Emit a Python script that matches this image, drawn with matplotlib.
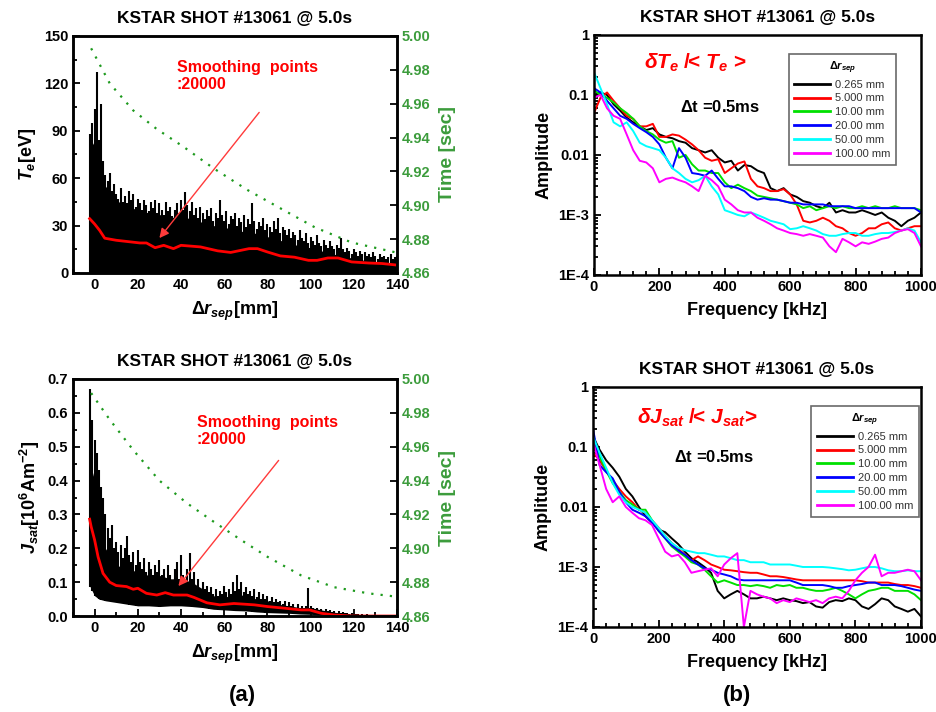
import numpy as np
import matplotlib
matplotlib.use("Agg")
import matplotlib.pyplot as plt
from matplotlib.ticker import MultipleLocator, FixedLocator, NullFormatter

plt.rcParams['font.family'] = ['Liberation Sans', 'DejaVu Sans']
plt.rcParams['font.weight'] = 'bold'
plt.rcParams['axes.labelweight'] = 'bold'
plt.rcParams['axes.titleweight'] = 'bold'
plt.rcParams['mathtext.fontset'] = 'custom'
plt.rcParams['mathtext.rm'] = 'Liberation Sans:bold'
plt.rcParams['mathtext.it'] = 'Liberation Sans:italic:bold'
plt.rcParams['mathtext.bf'] = 'Liberation Sans:bold'

# --- DATA: radial profiles (panel a) ---
r_peak = list(range(-2, 141))  # mm, one spike per mm
te_peak = [88, 95, 104, 127, 84, 107, 71, 62, 58, 63, 52, 56,
           50, 47, 54, 45, 49, 44, 52, 46, 50, 42,
           47, 44, 40, 46, 43, 39, 45, 41, 46, 38,
           44, 40, 37, 45, 39, 42, 36, 40, 44, 38,
           46, 40, 51, 43, 39, 45, 37, 41, 35, 42,
           38, 34, 40, 36, 41, 33, 38, 35, 46, 37,
           33, 39, 31, 36, 34, 38, 30, 35, 32, 37,
           29, 34, 31, 44, 33, 28, 32, 30, 35, 27,
           31, 29, 26, 33, 28, 35, 25, 29, 27, 24,
           28, 22, 26, 24, 21, 27, 22, 20, 25, 19,
           23, 20, 18, 24, 19, 17, 21, 18, 16, 20,
           17, 15, 18, 16, 22, 15, 13, 16, 14, 12,
           15, 13, 11, 14, 12, 13, 11, 12, 10, 13,
           11, 9, 12, 10, 11, 9, 10, 12, 9, 10, 11]
js_peak = [.67, .58, .52, .48, .43, .38, .35, .30, .26, .23, .27, .20,
           .22, .19, .21, .17, .20, .235, .18, .16, .19, .15,
           .195, .16, .14, .17, .13, .16, .14, .12, .15, .13,
           .165, .12, .14, .11, .15, .12, .10, .14, .16, .11,
           .18, .12, .10, .14, .185, .11, .13, .09, .11, .08,
           .10, .08, .09, .07, .085, .065, .08, .06, .075, .065,
           .09, .07, .08, .065, .10, .075, .12, .08, .10, .07,
           .085, .065, .075, .06, .08, .055, .07, .05, .065, .05,
           .06, .045, .055, .04, .05, .04, .045, .035, .045, .03,
           .04, .03, .035, .025, .035, .025, .03, .025, .03, .082,
           .03, .025, .02, .025, .018, .022, .015, .02, .014, .018,
           .012, .016, .01, .014, .009, .012, .008, .01, .007, .009,
           .006, .005, .006, .004, .005, .004, .005, .003, .004, .003,
           .003, .004, .003, .002, .003, .002, .003, .002, .002, .003, .002]

r_body = [-2, 0, 2, 5, 10, 15, 20, 25, 30, 35, 40, 45, 50, 55, 60, 65, 70,
          75, 80, 85, 90, 95, 100, 105, 110, 115, 120, 125, 130, 135, 140]
te_body = [85, 80, 68, 55, 46, 42, 40, 38, 37, 35, 36, 34, 32, 30, 29, 27, 26,
           25, 23, 21, 19, 17, 16, 14, 12, 11, 9, 8, 7, 6, 6]
js_body = [0.45, 0.40, 0.30, 0.20, 0.15, 0.14, 0.13, 0.12, 0.12, 0.11, 0.11,
           0.10, 0.08, 0.06, 0.055, 0.065, 0.06, 0.05, 0.045, 0.035, 0.03,
           0.025, 0.025, 0.018, 0.012, 0.008, 0.005, 0.003, 0.002, 0.002, 0.002]
js_low = [0.085, 0.06, 0.05, 0.045, 0.04, 0.035, 0.03, 0.03, 0.028, 0.03, 0.03,
          0.028, 0.025, 0.02, 0.018, 0.016, 0.015, 0.012, 0.01, 0.009, 0.008,
          0.006, 0.005, 0.003, 0.002, 0.001, 0, 0, 0, 0, 0]

te_sm_r = [-2.3, 0, 2.3, 4.7, 10, 21, 24, 28, 32, 36.5, 40, 49, 57, 63, 71.5,
           75.4, 80, 86, 92.5, 99, 103, 108, 112.7, 119, 127, 133, 140]
te_sm = [34.4, 31, 27, 22, 20.7, 19, 19, 16, 17.5, 15.4, 17.5, 16.5, 14, 13,
         15.4, 15.4, 13.3, 10.8, 10, 8, 8, 9.5, 9.5, 7, 6.3, 6, 5]
js_sm_r = [-2.3, -1.6, 0, 1.6, 3.9, 7, 10, 14.8, 17.9, 20, 24, 28.8, 32.7,
           36.5, 42.8, 46, 52, 58, 64.5, 74, 80, 88, 95.6, 99.5, 105, 111, 119, 140]
js_sm = [0.286, 0.264, 0.225, 0.175, 0.126, 0.10, 0.09, 0.087, 0.079, 0.082,
         0.067, 0.062, 0.069, 0.062, 0.062, 0.055, 0.039, 0.033, 0.037, 0.033,
         0.028, 0.023, 0.018, 0.018, 0.008, 0.003, 0.0, 0.0]

te_t_r = [-1.6, 7, 17.9, 28.8, 41.2, 55.2, 70.8, 86.3, 101.9, 119, 140]
te_t = [4.9927, 4.972, 4.956, 4.945, 4.9345, 4.9217, 4.909, 4.898, 4.887, 4.878, 4.872]
js_t_r = [-1.6, 7, 17.9, 30, 42.8, 55, 67.7, 80, 95.6, 111, 126.7, 140]
js_t = [4.9917, 4.976, 4.958, 4.940, 4.9266, 4.9158, 4.905, 4.895, 4.884, 4.877, 4.8734, 4.8714]

# --- DATA: spectra (panel b), 0..1000 kHz every 20 kHz ---
freq = np.arange(0, 1001, 20)
labels = ['0.265 mm', '5.000 mm', '10.00 mm', '20.00 mm', '50.00 mm', '100.00 mm']
colors = ['black', '#ff0000', '#00e000', '#0000ff', '#00ffff', '#ff00ff']

te_spec = [
    [0.10, 0.11, 0.10, 0.07, 0.055, 0.042, 0.035, 0.03, 0.026, 0.028, 0.022, 0.02, 0.019,
     0.017, 0.016, 0.013, 0.012, 0.011, 0.012, 0.009, 0.0075, 0.008, 0.0055, 0.0068, 0.0065,
     0.0055, 0.005, 0.0028, 0.0025, 0.0028, 0.0022, 0.002, 0.0017, 0.0016, 0.0014, 0.0013,
     0.0016, 0.0011, 0.0012, 0.0011, 0.0011, 0.0012, 0.0011, 0.001, 0.0011, 0.0009, 0.0008,
     0.00065, 0.0008, 0.0009, 0.0011],
    [0.05, 0.09, 0.11, 0.08, 0.06, 0.045, 0.04, 0.03, 0.03, 0.033, 0.02, 0.02, 0.022, 0.021,
     0.018, 0.015, 0.012, 0.009, 0.008, 0.0085, 0.005, 0.006, 0.0072, 0.0078, 0.004, 0.003,
     0.0028, 0.0025, 0.0025, 0.0027, 0.0022, 0.0015, 0.0008, 0.00075, 0.0008, 0.0009, 0.0008,
     0.00065, 0.0006, 0.0005, 0.00045, 0.0005, 0.0006, 0.0006, 0.0007, 0.00075, 0.0006,
     0.00055, 0.0006, 0.00065, 0.00065],
    [0.12, 0.10, 0.09, 0.075, 0.06, 0.05, 0.04, 0.03, 0.025, 0.022, 0.018, 0.016, 0.017,
     0.009, 0.01, 0.007, 0.0055, 0.0055, 0.005, 0.005, 0.0035, 0.0028, 0.0032, 0.0028,
     0.0025, 0.0021, 0.002, 0.0019, 0.0018, 0.0017, 0.0016, 0.0015, 0.0013, 0.0014, 0.0012,
     0.0013, 0.0014, 0.0013, 0.0014, 0.0013, 0.0013, 0.0014, 0.0013, 0.0014, 0.0013, 0.0013,
     0.0014, 0.0013, 0.0013, 0.0013, 0.0012],
    [0.13, 0.11, 0.08, 0.06, 0.045, 0.04, 0.033, 0.028, 0.024, 0.02, 0.015, 0.009, 0.006,
     0.013, 0.009, 0.005, 0.0048, 0.0045, 0.0055, 0.004, 0.003, 0.003, 0.0028, 0.0025, 0.002,
     0.0018, 0.0019, 0.0018, 0.0018, 0.0017, 0.0016, 0.0016, 0.0015, 0.0015, 0.0015, 0.0015,
     0.0014, 0.0014, 0.0014, 0.0014, 0.0013, 0.0013, 0.0013, 0.0013, 0.0013, 0.0013, 0.0013,
     0.0013, 0.0013, 0.0013, 0.0011],
    [0.24, 0.13, 0.07, 0.035, 0.03, 0.035, 0.025, 0.016, 0.014, 0.013, 0.012, 0.009, 0.006,
     0.005, 0.004, 0.0035, 0.0038, 0.0045, 0.003, 0.0022, 0.0012, 0.0011, 0.001, 0.00095,
     0.0011, 0.001, 0.0009, 0.0008, 0.00075, 0.0007, 0.00058, 0.0006, 0.00065, 0.0006,
     0.00055, 0.00048, 0.00045, 0.00045, 0.00048, 0.0005, 0.0005, 0.00045, 0.00045, 0.00048,
     0.0005, 0.0005, 0.00052, 0.00055, 0.0006, 0.00055, 0.00035],
    [0.09, 0.10, 0.06, 0.045, 0.04, 0.022, 0.012, 0.008, 0.0075, 0.006, 0.0035, 0.004, 0.0042,
     0.0038, 0.0035, 0.003, 0.0025, 0.0045, 0.0038, 0.003, 0.0018, 0.0015, 0.0012, 0.0011,
     0.0011, 0.0009, 0.0008, 0.0007, 0.0006, 0.00055, 0.0005, 0.00048, 0.00045, 0.00048,
     0.00045, 0.00042, 0.0003, 0.00024, 0.0004, 0.00035, 0.0003, 0.00035, 0.00033, 0.00036,
     0.0004, 0.00042, 0.0005, 0.00055, 0.00058, 0.0005, 0.0003],
]
js_spec = [
    [0.15, 0.09, 0.06, 0.045, 0.032, 0.02, 0.015, 0.01, 0.007, 0.0055, 0.0042, 0.0038, 0.003,
     0.0024, 0.0018, 0.0014, 0.0012, 0.001, 0.0008, 0.0004, 0.0003, 0.00035, 0.0004, 0.00035,
     0.0003, 0.0003, 0.00032, 0.0003, 0.00028, 0.0003, 0.00028, 0.00027, 0.00025, 0.00026,
     0.00022, 0.00021, 0.00026, 0.00028, 0.00027, 0.0003, 0.00028, 0.00022, 0.0002, 0.00024,
     0.0003, 0.00028, 0.00022, 0.0002, 0.00018, 0.0002, 0.00015],
    [0.08, 0.06, 0.04, 0.028, 0.02, 0.015, 0.012, 0.009, 0.008, 0.006, 0.0045, 0.0033, 0.0025,
     0.002, 0.0016, 0.0013, 0.0015, 0.0013, 0.0011, 0.001, 0.0009, 0.00088, 0.00085, 0.00082,
     0.0008, 0.0008, 0.00075, 0.0007, 0.0007, 0.00068, 0.00065, 0.00062, 0.0006, 0.0006,
     0.0006, 0.0006, 0.0006, 0.0006, 0.0006, 0.0006, 0.0006, 0.00058, 0.00055, 0.00055,
     0.00055, 0.00055, 0.00052, 0.0005, 0.0005, 0.00048, 0.00045],
    [0.12, 0.07, 0.04, 0.025, 0.018, 0.013, 0.011, 0.009, 0.009, 0.006, 0.004, 0.003, 0.0022,
     0.0018, 0.0015, 0.0012, 0.0011, 0.0009, 0.0007, 0.00055, 0.0006, 0.00055, 0.0005, 0.0005,
     0.00048, 0.0005, 0.00048, 0.00045, 0.0005, 0.00048, 0.0005, 0.00045, 0.00045, 0.00042,
     0.0004, 0.0004, 0.00042, 0.00045, 0.0004, 0.00035, 0.0003, 0.00035, 0.0004, 0.00042,
     0.00045, 0.00045, 0.0004, 0.0004, 0.0004, 0.00035, 0.00028],
    [0.20, 0.05, 0.038, 0.03, 0.018, 0.012, 0.009, 0.008, 0.007, 0.0055, 0.004, 0.003, 0.0023,
     0.0019, 0.0016, 0.0013, 0.0011, 0.00095, 0.0009, 0.0008, 0.00075, 0.0007, 0.00062,
     0.0006, 0.0006, 0.0006, 0.0006, 0.0006, 0.0006, 0.0006, 0.0006, 0.00055, 0.0005, 0.0005,
     0.0005, 0.0005, 0.00048, 0.00045, 0.00045, 0.00048, 0.0005, 0.00052, 0.00055, 0.00055,
     0.0005, 0.0005, 0.0005, 0.00048, 0.00045, 0.00042, 0.0004],
    [0.15, 0.08, 0.045, 0.025, 0.016, 0.012, 0.01, 0.009, 0.008, 0.006, 0.0045, 0.0033, 0.0025,
     0.0021, 0.0019, 0.0018, 0.0017, 0.0017, 0.0016, 0.0015, 0.0015, 0.0014, 0.0013, 0.0013,
     0.0012, 0.0012, 0.0012, 0.0011, 0.0011, 0.0011, 0.0011, 0.00105, 0.001, 0.001, 0.001,
     0.001, 0.00098, 0.00095, 0.00092, 0.00088, 0.0009, 0.00095, 0.001, 0.001, 0.00095,
     0.00088, 0.00085, 0.00085, 0.00088, 0.00085, 0.00085],
    [0.12, 0.05, 0.02, 0.012, 0.015, 0.01, 0.008, 0.0065, 0.006, 0.005, 0.003, 0.0018, 0.0015,
     0.0016, 0.0012, 0.0008, 0.00085, 0.0009, 0.00095, 0.0007, 0.0011, 0.0014, 0.0017, 0.0001,
     0.0004, 0.00035, 0.00032, 0.0003, 0.00025, 0.00028, 0.00026, 0.0003, 0.00028, 0.00026,
     0.00028, 0.00025, 0.0003, 0.00032, 0.0003, 0.0004, 0.0006, 0.0008, 0.001, 0.0016, 0.0007,
     0.0008, 0.0008, 0.00085, 0.0009, 0.00085, 0.0006],
]

GREEN = '#1e9a1e'
TICKGREEN = '#3c9c3c'
TITLE = 'KSTAR SHOT #13061 @ 5.0s'

fig = plt.figure(figsize=(9.37, 7.12), dpi=100)


def style_axis(ax):
    for s in ax.spines.values():
        s.set_linewidth(1.8)
    ax.tick_params(which='both', direction='in', width=1.3, labelsize=10.5)
    ax.tick_params(which='major', length=5)
    ax.tick_params(which='minor', length=3)


def profile_panel(rect, peak, body, low, sm_r, sm, t_r, t, ylim, ystep, yfmt,
                  ylabel, txt_xy, arrow_from, arrow_to):
    ax = fig.add_axes(rect)
    ax.fill_between(r_body, low, body, color='black', lw=0)
    ax.vlines(r_peak, np.interp(r_peak, r_body, low), peak, color='black', lw=1.5)
    ax.plot(sm_r, sm, color='#ff0000', lw=2)
    ax.set_xlim(-10, 140)
    ax.set_ylim(*ylim)
    ax.xaxis.set_major_locator(FixedLocator(range(0, 141, 20)))
    ax.xaxis.set_minor_locator(MultipleLocator(10))
    ax.yaxis.set_major_locator(MultipleLocator(ystep))
    ax.yaxis.set_minor_locator(MultipleLocator(ystep / 2))
    ax.yaxis.set_major_formatter(yfmt)
    ax.set_title(TITLE, fontsize=12.5, pad=9)
    ax.set_xlabel(r'$\Delta r_{sep}$[mm]', fontsize=13, labelpad=6)
    ax.set_ylabel(ylabel, fontsize=13, labelpad=4)
    style_axis(ax)
    ax.text(txt_xy[0], txt_xy[1], 'Smoothing  points\n:20000', color='#ff0000',
            fontsize=11.5, fontweight='bold', va='top', linespacing=1.2)
    ax.annotate('', xy=arrow_to, xytext=arrow_from,
                arrowprops=dict(arrowstyle='-|>', color='#ff3b3b', lw=1.0,
                                mutation_scale=14))
    ax2 = ax.twinx()
    ax2.plot(t_r, t, color=GREEN, lw=1.6, ls=(0, (1, 3.2)))
    ax2.set_ylim(4.86, 5.00)
    ax2.yaxis.set_major_locator(MultipleLocator(0.02))
    ax2.yaxis.set_major_formatter('{x:.2f}')
    ax2.set_ylabel('Time [sec]', color=TICKGREEN, fontsize=14, labelpad=6)
    style_axis(ax2)
    ax2.tick_params(axis='y', labelcolor=TICKGREEN)
    return ax


def spectrum_panel(rect, spec, label_txt, label_xy, dt_xy, leg_xy):
    ax = fig.add_axes(rect)
    for vals, c, lab in zip(spec, colors, labels):
        ax.plot(freq, vals, color=c, lw=1.4, label=lab)
    ax.set_yscale('log')
    ax.set_xlim(0, 1000)
    ax.set_ylim(1e-4, 1)
    ax.set_yticks([1e-4, 1e-3, 1e-2, 1e-1, 1], ['1E-4', '1E-3', '0.01', '0.1', '1'])
    ax.yaxis.set_minor_formatter(NullFormatter())
    ax.xaxis.set_major_locator(MultipleLocator(200))
    ax.xaxis.set_minor_locator(MultipleLocator(40))
    ax.set_title(TITLE, fontsize=12.5, pad=9)
    ax.set_xlabel('Frequency [kHz]', fontsize=13, labelpad=6)
    ax.set_ylabel('Amplitude', fontsize=13, labelpad=4)
    style_axis(ax)
    ax.text(*label_xy, label_txt, color='#ff0000', fontsize=15, ha='center',
            va='center', transform=ax.transAxes)
    ax.text(*dt_xy, r'$\Delta$t =0.5ms', fontsize=12, ha='center', va='center',
            transform=ax.transAxes)
    leg = ax.legend(loc='upper left', bbox_to_anchor=leg_xy,
                    prop={'size': 8, 'weight': 'normal'},
                    title=r'$\Delta r_{sep}$', title_fontsize=8, frameon=True,
                    fancybox=False, edgecolor='#444444', handlelength=3.2,
                    handletextpad=0.5, labelspacing=0.35, borderpad=0.5,
                    alignment='center')
    leg.get_frame().set_linewidth(1.2)
    for h in leg.get_lines():
        h.set_linewidth(2)
    for t in leg.get_texts():
        t.set_color('#333333')
    return ax


profile_panel([0.0779, 0.6166, 0.3458, 0.3329], te_peak, te_body,
              [0] * len(r_body), te_sm_r, te_sm, te_t_r, te_t, (0, 150), 30,
              '{x:.0f}', r'$T_e$[eV]', (38, 135), (77, 103), (29.2, 20.7))
profile_panel([0.0779, 0.1348, 0.3458, 0.3329], js_peak, js_body, js_low,
              js_sm_r, js_sm, js_t_r, js_t, (0, 0.7), 0.1, '{x:.1f}',
              r'$J_{sat}$[10$^6$Am$^{-2}$]', (47.4, 0.595), (86, 0.466), (38, 0.082))

spectrum_panel([0.6339, 0.6138, 0.349, 0.3371], te_spec,
               r'$\delta T_e$ /< $T_e$ >', (0.31, 0.883), (0.385, 0.70), (0.578, 0.945))
spectrum_panel([0.6329, 0.1194, 0.350, 0.3371], js_spec,
               r'$\delta J_{sat}$ /< $J_{sat}$>', (0.317, 0.87), (0.369, 0.71), (0.649, 0.945))

fig.text(242 / 937, 1 - 695 / 712, '(a)', fontsize=16, fontweight='bold',
         ha='center', va='center')
fig.text(737 / 937, 1 - 695 / 712, '(b)', fontsize=16, fontweight='bold',
         ha='center', va='center')

fig.savefig('out.png', dpi=100)
